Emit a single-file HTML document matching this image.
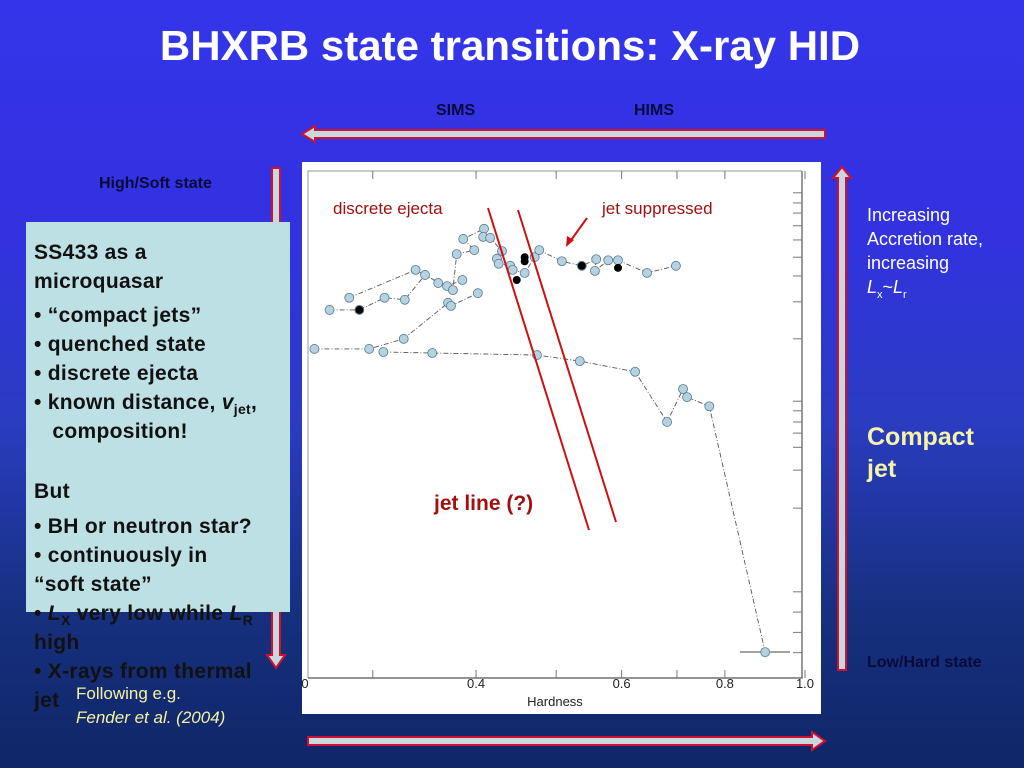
<!DOCTYPE html>
<html><head><meta charset="utf-8"><style>
body{margin:0;width:1024px;height:768px;overflow:hidden;position:relative;font-family:"Liberation Sans",sans-serif;
background:linear-gradient(to bottom,#3434ea 0%,#3232e0 30%,#2a3cc0 55%,#16307e 80%,#102668 100%);}
.t{position:absolute;white-space:nowrap;}
#box{position:absolute;left:26px;top:222px;width:264px;height:390px;background:#bde0e4;}
#txt{position:absolute;left:34px;top:238px;font-weight:bold;font-size:21px;line-height:29px;color:#111;letter-spacing:0.3px}
sub{line-height:0;vertical-align:-5px}
</style></head><body>
<div class="t" style="left:0;width:1020px;text-align:center;top:22px;font-size:42px;font-weight:bold;color:#fff">BHXRB state transitions: X-ray HID</div>
<div class="t" style="left:436px;top:102px;font-size:16px;font-weight:bold;color:#0a0a3a">SIMS</div>
<div class="t" style="left:634px;top:102px;font-size:16px;font-weight:bold;color:#0a0a3a">HIMS</div>
<div class="t" style="left:99px;top:175px;font-size:16px;font-weight:bold;color:#0a0a3a">High/Soft state</div>
<div class="t" style="left:867px;top:654px;font-size:16px;font-weight:bold;color:#0a0a3a">Low/Hard state</div>
<div class="t" style="left:867px;top:203px;font-size:18px;line-height:24px;color:#fff">Increasing<br>Accretion rate,<br>increasing<br><i>L</i><sub style="font-size:11px">x</sub>~<i>L</i><sub style="font-size:11px">r</sub></div>
<div class="t" style="left:867px;top:421px;font-size:25px;line-height:32px;font-weight:bold;color:#f4f4a8">Compact<br>jet</div>

<svg width="1024" height="768" style="position:absolute;left:0;top:0">
<g fill="#c8d8dc" stroke="#d01030" stroke-width="2">
<polygon points="825,130 315,130 315,126 302,134 315,142 315,138 825,138"/>
<polygon points="308,737 812,737 812,732 825,741 812,750 812,745 308,745"/>
<polygon points="838,670 838,178 833,178 842,167 851,178 846,178 846,670"/>
<polygon points="272,168 280,168 280,655 285,655 276,668 267,655 272,655"/>
</g>
<rect x="302" y="162" width="519" height="552" fill="#fff"/>
<path d="M308,678 V171 H802" fill="none" stroke="#aaa" stroke-width="1.2"/>
<path d="M308,678 H802 V171" fill="none" stroke="#555" stroke-width="1.2"/>
<g id="ticks" stroke="#777" stroke-width="1"></g>
<g id="yticks" stroke="#777" stroke-width="1"></g>
<g id="labels" font-size="13" fill="#222" text-anchor="middle"></g>
<text x="555" y="706" font-size="13" text-anchor="middle" fill="#222">Hardness</text>
<g id="lines" fill="none" stroke="#555" stroke-width="0.9" stroke-dasharray="5,2,1,2"></g>
<line x1="740" y1="652" x2="790" y2="652" stroke="#444"/>
<g id="pts"></g>
<g stroke="#cc1111" stroke-width="2" fill="none">
<line x1="488" y1="208" x2="589" y2="530"/>
<line x1="518" y1="210" x2="616" y2="522"/>
<line x1="587" y1="218" x2="569" y2="243"/>
<polygon points="566,247 567,236 574,240" fill="#cc1111" stroke="none"/>
</g>
<text x="333" y="214" font-size="17" fill="#a01010">discrete ejecta</text>
<text x="602" y="214" font-size="17" fill="#a01010">jet suppressed</text>
<text x="434" y="510" font-size="21" font-weight="bold" fill="#a01010">jet line (?)</text>
</svg>

<div id="box"></div>
<div id="txt" class="t">SS433 as a<br>microquasar<br><div style="height:5px"></div>• “compact jets”<br>• quenched state<br>• discrete ejecta<br>• known distance, <i>v</i><sub style="font-size:14px">jet</sub>,<br>&nbsp;&nbsp;&nbsp;composition!<br><div style="height:31px"></div>But<br><div style="height:6px"></div>• BH or neutron star?<br>• continuously in<br>“soft state”<br>• <i>L</i><sub style="font-size:14px">X</sub> very low while <i>L</i><sub style="font-size:14px">R</sub><br>high<br>• X-rays from thermal<br>jet</div>
<div class="t" style="left:76px;top:682px;font-size:17px;line-height:24px;color:#f4f4a0">Following e.g.<br><i>Fender et al. (2004)</i></div>

<script>
const xTickVals=[0.3,0.4,0.5,0.6,0.7,0.8,1.0];
const xTickLabels=["0.4","0.6","0.8","1.0"];
const xLabelVals=[0.4,0.6,0.8,1.0];
const yTickVals=[95.7,93.7,91.7,89.2,86.4,83.0,79.3,74.2,66.9,54.6,52.7,50.5,48.3,45.5,41.0,33.5,17.0,13.0,9.0,5.0];
const seriesA_h=[0.309,0.354,0.474,0.534,0.623,0.681,0.712,0.720,0.766,0.895];
const seriesA_i=[64.3,64.1,63.7,62.5,60.4,50.5,57.0,55.4,53.6,5.1];
const seriesB_h=[0.255,0.297,0.327,0.370,0.373,0.402];
const seriesB_i=[64.9,64.9,66.9,74.0,73.4,75.9];
const seriesC_h=[0.266,0.289,0.310,0.328,0.347,0.360,0.369,0.385];
const seriesC_i=[72.6,72.6,75.0,74.6,79.5,77.9,77.3,78.5];
const seriesD_h=[0.281,0.338,0.375,0.379,0.398,0.386,0.409,0.408,0.416,0.430,0.424,0.426,0.440,0.443,0.458,0.471,0.477,0.508,0.537,0.559,0.557,0.578,0.594,0.644,0.698];
const seriesD_i=[75.0,80.5,76.5,83.6,84.4,86.6,88.6,87.0,86.8,84.2,82.7,81.7,81.3,80.5,79.9,83.0,84.4,82.2,81.3,82.6,80.3,82.4,82.4,79.9,81.3];
const black_h=[0.289,0.448,0.458,0.458,0.537,0.594];
const black_i=[72.6,78.5,83.0,82.2,81.3,80.9];
const xS=h=>805+359*Math.log(h);
const yS=v=>678-5.07*v;
const NS="http://www.w3.org/2000/svg";
const tk=document.getElementById('ticks'),lb=document.getElementById('labels'),yt=document.getElementById('yticks');
xTickVals.forEach(v=>{const x=xS(v);
 const a=document.createElementNS(NS,'line');a.setAttribute('x1',x);a.setAttribute('x2',x);a.setAttribute('y1',678);a.setAttribute('y2',670);
 
 
 tk.appendChild(a);
 const b=document.createElementNS(NS,'line');b.setAttribute('x1',x);b.setAttribute('x2',x);b.setAttribute('y1',171);b.setAttribute('y2',179);
 
 
 tk.appendChild(b);});
yTickVals.forEach(v=>{const y=yS(v);
 const a=document.createElementNS(NS,'line');a.setAttribute('x1',793);a.setAttribute('x2',802);a.setAttribute('y1',y);a.setAttribute('y2',y);
 
 
 yt.appendChild(a);});
xLabelVals.forEach((v,i)=>{const t=document.createElementNS(NS,'text');t.setAttribute('x',xS(v));t.setAttribute('y',688);t.textContent=xTickLabels[i];
 
 
 lb.appendChild(t);});
const zl=document.createElementNS(NS,'text');zl.setAttribute('x',305);zl.setAttribute('y',688);zl.textContent="0";


lb.appendChild(zl);
const lg=document.getElementById('lines'),pg=document.getElementById('pts');
[[seriesA_h,seriesA_i],[seriesB_h,seriesB_i],[seriesC_h,seriesC_i],[seriesD_h,seriesD_i]].forEach(([h,v],k)=>{
 const p=document.createElementNS(NS,'polyline');
 p.setAttribute('points',h.map((x,i)=>xS(x)+','+yS(v[i])).join(' '));
 
 
 lg.appendChild(p);
 h.forEach((x,i)=>{const c=document.createElementNS(NS,'circle');c.setAttribute('cx',xS(x));c.setAttribute('cy',yS(v[i]));c.setAttribute('r',4.5);
  c.setAttribute('fill','#b4d2e0');c.setAttribute('stroke','#5a7890');c.setAttribute('stroke-width','0.8');
  
  
  pg.appendChild(c);});
});
black_h.forEach((x,i)=>{const c=document.createElementNS(NS,'circle');c.setAttribute('cx',xS(x));c.setAttribute('cy',yS(black_i[i]));c.setAttribute('r',4);c.setAttribute('fill','#000');
 
 
 pg.appendChild(c);});
</script>
</body></html>
